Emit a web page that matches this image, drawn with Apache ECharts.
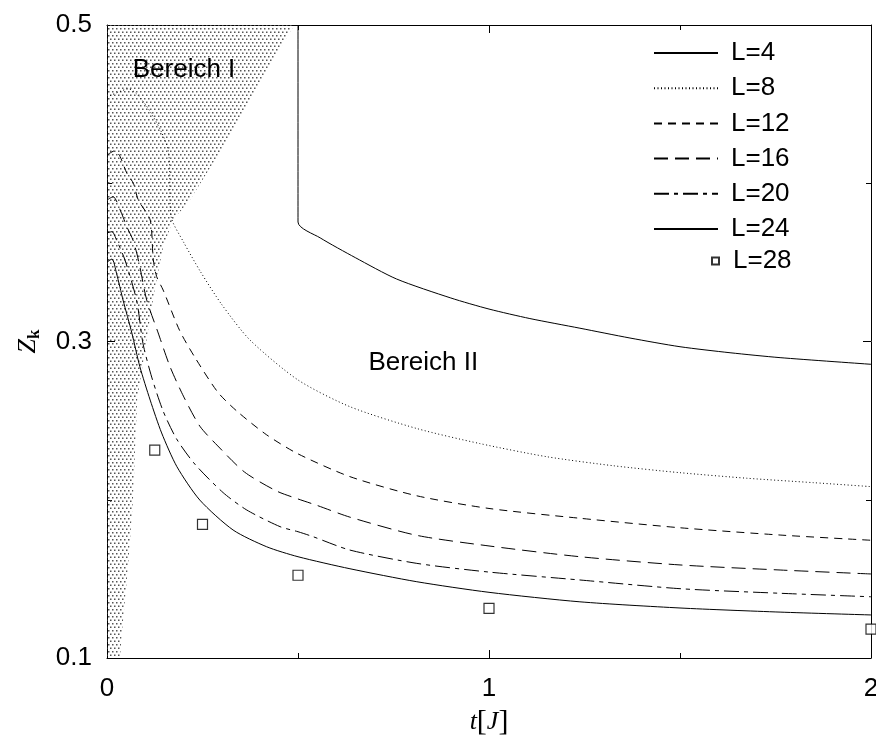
<!DOCTYPE html>
<html><head><meta charset="utf-8">
<script src="https://cdn.jsdelivr.net/npm/echarts@6/dist/echarts.min.js"></script>
<style>html,body{margin:0;padding:0;background:#fff}#c{width:876px;height:735px}</style>
</head><body><div id="c"></div>
<script>
// ---- data (t in J, Z_k) ----
const seriesNames = ['L=4','L=8','L=12','L=16','L=20','L=24'];
const L4 = [[0.5,0.5],[0.5,0.3755],[0.558,0.3655],[0.65,0.353],[0.758,0.3395],[0.9,0.3275],[1.0,0.3205],[1.107,0.3145],[1.238,0.3084],[1.369,0.3022],[1.5,0.2967],[1.631,0.2929],[1.762,0.2898],[2.0,0.2856]];
const L8 = [[0,0.4545],[0.055,0.4596],[0.16,0.421],[0.168,0.3787],[0.2,0.363],[0.245,0.344],[0.3,0.3235],[0.374,0.301],[0.5,0.2757],[0.636,0.2588],[0.811,0.245],[0.976,0.2355],[1.151,0.2272],[1.325,0.2215],[1.5,0.2171],[1.675,0.2136],[1.849,0.2108],[2.0,0.2083]];
const L12 = [[0,0.4178],[0.021,0.4206],[0.034,0.417],[0.052,0.4063],[0.069,0.400],[0.082,0.3894],[0.113,0.3768],[0.121,0.352],[0.13,0.341],[0.147,0.3325],[0.19,0.307],[0.23,0.290],[0.29,0.268],[0.34,0.256],[0.418,0.241],[0.5,0.229],[0.636,0.2146],[0.811,0.2025],[1.0,0.1945],[1.238,0.1883],[1.5,0.1823],[1.762,0.1777],[2.0,0.1744]];
const L16 = [[0,0.3894],[0.016,0.3915],[0.038,0.381],[0.052,0.3725],[0.068,0.3641],[0.078,0.3557],[0.086,0.3473],[0.104,0.3262],[0.134,0.3054],[0.165,0.2841],[0.2,0.2655],[0.243,0.2465],[0.29,0.234],[0.36,0.2175],[0.444,0.2055],[0.5,0.2005],[0.549,0.1965],[0.636,0.189],[0.811,0.1775],[1.0,0.1708],[1.238,0.164],[1.5,0.1588],[1.762,0.1556],[2.0,0.1531]];
const L20 = [[0,0.3686],[0.013,0.3694],[0.025,0.3641],[0.047,0.3515],[0.078,0.3255],[0.094,0.299],[0.117,0.2775],[0.147,0.256],[0.182,0.2385],[0.23,0.2225],[0.304,0.2045],[0.366,0.1935],[0.453,0.183],[0.5,0.1798],[0.539,0.1767],[0.636,0.1682],[0.811,0.1598],[1.0,0.1543],[1.238,0.1493],[1.5,0.1438],[1.762,0.1409],[2.0,0.1387]];
const L24 = [[0,0.3502],[0.013,0.3521],[0.025,0.343],[0.042,0.3262],[0.065,0.3054],[0.086,0.2841],[0.113,0.263],[0.143,0.2422],[0.183,0.2209],[0.243,0.1998],[0.33,0.1809],[0.418,0.1703],[0.5,0.164],[0.636,0.1564],[0.811,0.1482],[1.0,0.1415],[1.238,0.1355],[1.5,0.1316],[1.762,0.129],[2.0,0.1272]];
const L28 = [[0.125,0.2314],[0.25,0.1845],[0.5,0.1523],[1.0,0.1314],[2.0,0.1183]];
// boundary of "Bereich I" (shaded region)
const shadeBoundary = [[0,0.5],[0.49,0.5],[0.393,0.4608],[0.304,0.4229],[0.217,0.3894],[0.173,0.3768],[0.147,0.3597],[0.126,0.3344],[0.113,0.3155],[0.079,0.263],[0.068,0.2],[0.055,0.1575],[0.039,0.1158],[0.034,0.1],[0,0.1]];
const annoText = ['Bereich I','Bereich II'];
const annoPos = [[0.2016,0.4716],[0.828,0.2864]];
const xTickLabels = [0,1,2];
const yTickLabels = [0.1,0.3,0.5];

// ---- rendering ----
const FONT = '"Liberation Sans", Arial, Helvetica, sans-serif';
const SERIF = '"Liberation Serif", "Times New Roman", serif';
const pattern = (function(){
  const c = document.createElement('canvas'); c.width = 4; c.height = 7;
  const g = c.getContext('2d');
  g.fillStyle = '#555';
  g.fillRect(0,0,1.5,1.5);
  g.fillRect(2,3.5,1.5,1.5);
  return c;
})();

const chart = echarts.init(document.getElementById('c'), null, {renderer:'canvas'});
const dashTypes = ['solid',[1,2.5],[8,6],[14,7],[15,5,4,5],'solid'];
const lineData = [L4,L8,L12,L16,L20,L24];

const axisCommonX = {
  type:'value', min:xTickLabels[0], max:xTickLabels[xTickLabels.length-1], interval:1,
  axisLine:{show:true,onZero:false,lineStyle:{color:'#000',width:1}},
  axisTick:{show:true,inside:true,length:8,lineStyle:{color:'#000',width:1}},
  minorTick:{show:true,splitNumber:2,length:5,lineStyle:{color:'#000',width:1}},
  splitLine:{show:false}, minorSplitLine:{show:false}
};
const axisCommonY = {
  type:'value', min:yTickLabels[0], max:yTickLabels[yTickLabels.length-1], interval:0.2,
  axisLine:{show:true,onZero:false,lineStyle:{color:'#000',width:1}},
  axisTick:{show:true,inside:true,length:8,lineStyle:{color:'#000',width:1}},
  minorTick:{show:true,splitNumber:2,length:5,lineStyle:{color:'#000',width:1}},
  splitLine:{show:false}, minorSplitLine:{show:false}
};

const series = [];
series.push({
  type:'custom', name:'shade', silent:true, z:1,
  data:[[0,0.3]],
  renderItem:function(params, api){
    if (params.dataIndex !== 0) return;
    const pts = shadeBoundary.map(p => api.coord(p));
    return {type:'polygon', shape:{points:pts}, style:{fill:{image:pattern, repeat:'repeat'}, stroke:null}};
  }
});
seriesNames.forEach((n,i)=>{
  series.push({
    type:'line', name:n, data:lineData[i], symbol:'none', smooth:0.25, z:3, silent:true,
    lineStyle:{color:'#000', width:1, type:dashTypes[i]}, itemStyle:{color:'#000'}
  });
});
series.push({
  type:'scatter', name:'L=28', data:L28, symbol:'rect', symbolSize:10, z:4, silent:true,
  itemStyle:{color:'#fff', borderColor:'#000', borderWidth:1.2}
});
series.push({
  type:'scatter', name:'notes', z:5, silent:true, symbolSize:1,
  itemStyle:{color:'rgba(255,255,255,0)'},
  data: annoPos.map((p,i)=>({value:p, name:annoText[i]})),
  label:{show:true, position:'inside', formatter:p=>p.name, fontSize:26, fontFamily:FONT,
         color:'#000', textBorderWidth:0, opacity:1}
});

const option = {
  animation:false,
  backgroundColor:'#fff',
  grid:{left:107, right:5, top:25, bottom:77, outerBoundsMode:'none'},
  xAxis:[
    Object.assign({}, axisCommonX, {
      position:'bottom',
      axisLabel:{show:true, margin:18, fontSize:26, fontFamily:FONT, color:'#000', formatter:v=>String(Math.round(v))},
      name:'{t|t}{b|[}{j|J}{b|]}', nameLocation:'middle', nameGap:40,
      nameTextStyle:{rich:{
        t:{fontFamily:SERIF, fontStyle:'italic', fontSize:26, color:'#000'},
        j:{fontFamily:SERIF, fontStyle:'italic', fontSize:26, color:'#000'},
        b:{fontFamily:SERIF, fontSize:30, color:'#000'}
      }}
    }),
    Object.assign({}, axisCommonX, {position:'top', axisLabel:{show:false}})
  ],
  yAxis:[
    Object.assign({}, axisCommonY, {
      position:'left',
      axisLabel:{show:true, margin:15, fontSize:26, fontFamily:FONT, color:'#000', formatter:v=>v.toFixed(1)},
      name:'{z|Z}{k|k}', nameLocation:'middle', nameRotate:90, nameGap:64,
      nameTextStyle:{rich:{
        z:{fontFamily:SERIF, fontStyle:'italic', fontSize:26, color:'#000'},
        k:{fontFamily:SERIF, fontWeight:'bold', fontSize:17, color:'#000', verticalAlign:'top', padding:[12,0,0,0]}
      }}
    }),
    Object.assign({}, axisCommonY, {position:'right', axisLabel:{show:false}})
  ],
  legend:[
    {data:seriesNames, orient:'vertical', left:648, top:35, itemWidth:64, itemHeight:14, itemGap:9.2,
     selectedMode:false, itemStyle:{opacity:0},
     textStyle:{fontSize:26, fontFamily:FONT, color:'#000', lineHeight:26, padding:[0,0,0,8]}},
    {data:['L=28'], orient:'vertical', left:706, top:243, itemWidth:7, itemHeight:7,
     selectedMode:false, textStyle:{fontSize:26, fontFamily:FONT, color:'#000', lineHeight:26, padding:[0,0,0,9]}}
  ],
  series:series
};
chart.setOption(option);
</script>
</body></html>
